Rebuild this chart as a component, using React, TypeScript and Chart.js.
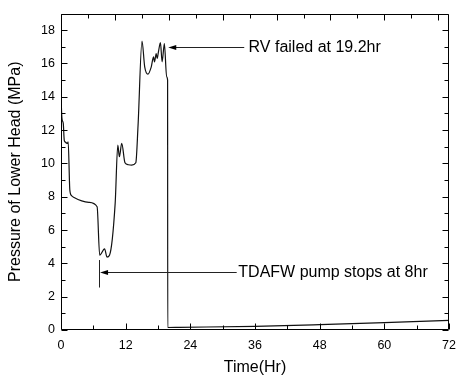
import React, { useEffect, useRef } from "react";
import { Chart, registerables } from "chart.js";

Chart.register(...registerables);

// ---- data ----
const timeHr = [
  0, 0.18, 0.42, 0.6, 0.73, 1.22, 1.33, 1.64, 1.95, 2.43, 5.17, 6.7, 7.18, 8.09,
  8.53, 9.0, 10.05, 10.54, 10.83, 11.27, 11.87, 12.5, 13.1, 13.88, 14.3, 15.03,
  15.53, 16.13, 16.75, 17.17, 17.35, 17.66, 17.84, 18.08, 18.45, 18.76, 19.18,
  19.6, 19.78, 19.8, 22, 36, 48, 60, 72,
];
const pressureMPa = [
  14.0, 12.7, 12.4, 11.4, 11.3, 11.2, 11.3, 8.4, 8.07, 7.95, 7.66, 7.4, 4.49, 4.87,
  4.38, 4.49, 7.6, 11.1, 10.4, 11.2, 10.04, 9.92, 9.9, 10.04, 12.3, 17.35,
  15.8, 15.36, 15.8, 16.4, 16.1, 16.6, 16.3, 16.7, 17.25, 16.1, 17.2,
  15.2, 15.0, 0.15, 0.16, 0.22, 0.32, 0.44, 0.58,
];

const xMin = 0;
const xMax = 72;
const yMin = 0;
const yMax = 19;
const xMajorStep = 12;
const xMinorStep = 6;
const topMajorStep = 10;
const topMinorStep = 5;
const yMajorStep = 2;
const yMinorStep = 1;

const xTitle = "Time(Hr)";
const yTitle = "Pressure of Lower Head (MPa)";

// annotations (data units)
const rvLabel = "RV failed at 19.2hr";
const rvArrow = { tipX: 19.9, tailX: 34.0, y: 17.0, textX: 34.8 };
const pumpLabel = "TDAFW pump stops at 8hr";
const pumpArrow = { tipX: 7.25, tailX: 32.6, y: 3.5, textX: 32.9, markX: 7.1, markY0: 2.55, markY1: 4.2 };

const FONT = '"Liberation Sans", Arial, Helvetica, sans-serif';

const framePlugin = {
  id: "frameTicks",
  afterDatasetsDraw(chart: any) {
    const { ctx, chartArea: a, scales } = chart;
    const xs = scales.x;
    const ys = scales.y;
    const L = Math.round(a.left) + 0.5;
    const R = Math.round(a.right) - 0.5;
    const T = Math.round(a.top) + 0.5;
    const B = Math.round(a.bottom) - 0.5;
    ctx.save();
    ctx.strokeStyle = "#000";
    ctx.lineWidth = 1;
    ctx.beginPath();
    ctx.rect(L, T, R - L, B - T);
    ctx.stroke();

    const major = 6;
    const minor = 4;
    ctx.beginPath();
    // bottom
    for (let v = xMin; v <= xMax + 1e-9; v += xMinorStep) {
      const px = Math.round(xs.getPixelForValue(v)) + 0.5;
      const len = Math.abs(v % xMajorStep) < 1e-9 ? major : minor;
      ctx.moveTo(px, B);
      ctx.lineTo(px, B - len);
    }
    // top
    for (let v = xMin; v <= xMax + 1e-9; v += topMinorStep) {
      const px = Math.round(xs.getPixelForValue(v)) + 0.5;
      const len = Math.abs(v % topMajorStep) < 1e-9 ? major : minor;
      ctx.moveTo(px, T);
      ctx.lineTo(px, T + len);
    }
    // left & right
    for (let v = yMin; v <= yMax + 1e-9; v += yMinorStep) {
      const py = Math.round(ys.getPixelForValue(v)) + 0.5;
      const len = Math.abs(v % yMajorStep) < 1e-9 ? major : minor;
      ctx.moveTo(L, py);
      ctx.lineTo(L + len, py);
      ctx.moveTo(R, py);
      ctx.lineTo(R - len, py);
    }
    ctx.stroke();

    // annotations
    const drawArrow = (tip: number, tail: number, yv: number) => {
      const y = Math.round(ys.getPixelForValue(yv)) + 0.5;
      const tx = xs.getPixelForValue(tip);
      const ex = xs.getPixelForValue(tail);
      ctx.strokeStyle = "#222";
      ctx.beginPath();
      ctx.moveTo(tx + 6, y);
      ctx.lineTo(ex, y);
      ctx.stroke();
      ctx.fillStyle = "#000";
      ctx.beginPath();
      ctx.moveTo(tx, y);
      ctx.lineTo(tx + 8, y - 2.5);
      ctx.lineTo(tx + 8, y + 2.5);
      ctx.closePath();
      ctx.fill();
    };
    drawArrow(rvArrow.tipX, rvArrow.tailX, rvArrow.y);
    drawArrow(pumpArrow.tipX, pumpArrow.tailX, pumpArrow.y);

    // pump marker line
    const mx = Math.round(xs.getPixelForValue(pumpArrow.markX)) + 0.5;
    ctx.strokeStyle = "#222";
    ctx.beginPath();
    ctx.moveTo(mx, ys.getPixelForValue(pumpArrow.markY0));
    ctx.lineTo(mx, ys.getPixelForValue(pumpArrow.markY1));
    ctx.stroke();

    ctx.fillStyle = "#000";
    ctx.font = `16px ${FONT}`;
    ctx.textBaseline = "middle";
    ctx.textAlign = "left";
    ctx.fillText(rvLabel, xs.getPixelForValue(rvArrow.textX), ys.getPixelForValue(rvArrow.y) + 1);
    ctx.fillText(pumpLabel, xs.getPixelForValue(pumpArrow.textX), ys.getPixelForValue(pumpArrow.y) + 1);
    ctx.restore();
  },
};

export default function App() {
  const ref = useRef<HTMLCanvasElement | null>(null);

  useEffect(() => {
    if (!ref.current) return;
    const chart = new Chart(ref.current, {
      type: "line",
      data: {
        datasets: [
          {
            data: timeHr.map((t, i) => ({ x: t, y: pressureMPa[i] })),
            borderColor: "#111",
            borderWidth: 1.2,
            pointRadius: 0,
            fill: false,
            cubicInterpolationMode: "monotone",
          },
        ],
      },
      options: {
        animation: false,
        responsive: false,
        maintainAspectRatio: false,
        layout: { padding: { top: 5, right: 9, left: 0, bottom: 0 } },
        plugins: { legend: { display: false }, tooltip: { enabled: false } },
        scales: {
          x: {
            type: "linear",
            min: xMin,
            max: xMax,
            grid: { display: false, drawTicks: false },
            border: { display: false },
            ticks: {
              stepSize: xMajorStep,
              includeBounds: false,
              autoSkip: false,
              maxRotation: 0,
              padding: 8,
              color: "#000",
              font: { family: FONT, size: 12.5 },
            },
            title: {
              display: true,
              text: xTitle,
              color: "#000",
              font: { family: FONT, size: 16 },
              padding: { top: 0, bottom: 6 },
            },
            afterFit: (s: any) => {
              s.height = 53;
            },
          },
          y: {
            type: "linear",
            min: yMin,
            max: yMax,
            grid: { display: false, drawTicks: false },
            border: { display: false },
            ticks: {
              stepSize: yMajorStep,
              includeBounds: false,
              autoSkip: false,
              padding: 6,
              color: "#000",
              font: { family: FONT, size: 12.5 },
            },
            title: {
              display: true,
              text: yTitle,
              color: "#000",
              font: { family: FONT, size: 16 },
              padding: { top: 6, bottom: 0 },
            },
            afterFit: (s: any) => {
              s.width = 61;
            },
          },
        },
      } as any,
      plugins: [framePlugin],
    });
    return () => chart.destroy();
  }, []);

  return (
    <div style={{ position: "fixed", left: 0, top: 0, width: 464, height: 383, background: "#fff" }}>
      <canvas ref={ref} width={464} height={383} style={{ display: "block", width: 464, height: 383 }} />
    </div>
  );
}
